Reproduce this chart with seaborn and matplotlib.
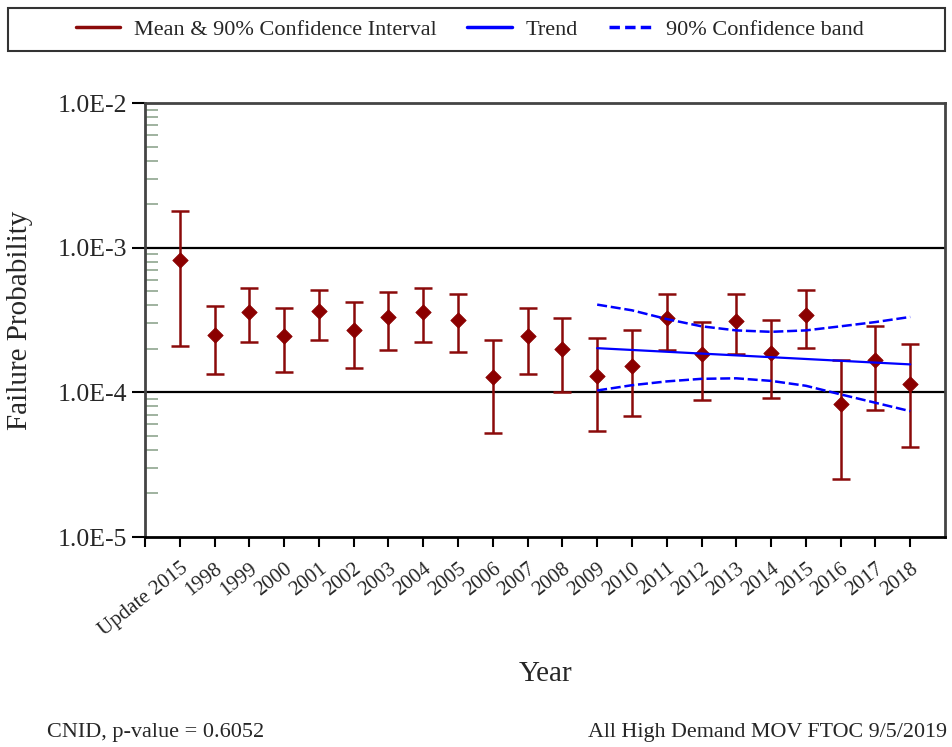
import numpy as np
import pandas as pd
import matplotlib
matplotlib.use("Agg")
import matplotlib.pyplot as plt
from matplotlib.patches import Rectangle
from matplotlib.lines import Line2D
from matplotlib.ticker import LogLocator, NullFormatter, FixedLocator
import seaborn as sns

# ---------------- data ----------------
categories = ["Update 2015", "1998", "1999", "2000", "2001", "2002", "2003", "2004",
              "2005", "2006", "2007", "2008", "2009", "2010", "2011", "2012",
              "2013", "2014", "2015", "2016", "2017", "2018"]
mean_vals = [8.25e-4, 2.49e-4, 3.59e-4, 2.47e-4, 3.63e-4, 2.71e-4, 3.30e-4, 3.59e-4,
             3.14e-4, 1.28e-4, 2.45e-4, 1.99e-4, 1.30e-4, 1.52e-4, 3.27e-4, 1.84e-4,
             3.13e-4, 1.87e-4, 3.41e-4, 8.30e-5, 1.68e-4, 1.14e-4]
upper_vals = [1.78e-3, 3.95e-4, 5.28e-4, 3.83e-4, 5.11e-4, 4.22e-4, 4.95e-4, 5.28e-4,
              4.80e-4, 2.30e-4, 3.83e-4, 3.27e-4, 2.37e-4, 2.70e-4, 4.80e-4, 3.06e-4,
              4.80e-4, 3.16e-4, 5.11e-4, 1.67e-4, 2.87e-4, 2.16e-4]
lower_vals = [2.10e-4, 1.34e-4, 2.22e-4, 1.38e-4, 2.31e-4, 1.47e-4, 1.96e-4, 2.22e-4,
              1.90e-4, 5.24e-5, 1.33e-4, 1.00e-4, 5.44e-5, 6.81e-5, 1.96e-4, 8.80e-5,
              1.84e-4, 9.09e-5, 2.02e-4, 2.51e-5, 7.50e-5, 4.22e-5]

trend_years = ["2009", "2018"]
trend_vals = [2.02e-4, 1.56e-4]

band_years = ["2009", "2010", "2011", "2012", "2013", "2014", "2015", "2016", "2017", "2018"]
band_upper = [4.04e-4, 3.69e-4, 3.21e-4, 2.86e-4, 2.68e-4, 2.62e-4, 2.68e-4, 2.86e-4, 3.06e-4, 3.32e-4]
band_lower = [1.03e-4, 1.12e-4, 1.19e-4, 1.24e-4, 1.25e-4, 1.20e-4, 1.11e-4, 9.68e-5, 8.47e-5, 7.41e-5]

y_ticks = [1e-5, 1e-4, 1e-3, 1e-2]
y_ticklabels = ["1.0E-5", "1.0E-4", "1.0E-3", "1.0E-2"]

# ---------------- style ----------------
sns.set_theme(style="white")
plt.rcParams["font.family"] = ["Liberation Serif", "DejaVu Serif"]

W, H = 952, 747
fig = plt.figure(figsize=(W / 100, H / 100), dpi=100)
ax = fig.add_axes([145 / W, 1 - 537 / H, 800 / W, 434 / H])

pos = {c: i for i, c in enumerate(categories)}
df = pd.DataFrame({"pos": np.arange(len(categories)), "mean": mean_vals,
                   "lo": lower_vals, "hi": upper_vals})
red = "#8B0A0A"
blue = "#0000FF"

ax.set_yscale("log")
ax.set_ylim(1e-5, 1e-2)
ax.set_xlim(-1, len(categories))

# horizontal reference lines
for v in [1e-3, 1e-4]:
    ax.axhline(v, color="black", lw=1.6, zorder=1)

# error bars
ax.errorbar(df["pos"], df["mean"],
            yerr=[df["mean"] - df["lo"], df["hi"] - df["mean"]],
            fmt="none", ecolor=red, elinewidth=1.8, capsize=6.5, capthick=1.8, zorder=3)

# means
sns.scatterplot(data=df, x="pos", y="mean", marker="D", s=62, color="#8B0000",
                edgecolor="#8B0000", linewidth=0.5, ax=ax, zorder=4, legend=False)

# trend + band
tdf = pd.DataFrame({"pos": [pos[y] for y in trend_years], "val": trend_vals})
bdf = pd.DataFrame({"pos": [pos[y] for y in band_years], "up": band_upper, "lo": band_lower})
sns.lineplot(data=tdf, x="pos", y="val", color=blue, lw=1.6, ax=ax, zorder=5)
sns.lineplot(data=bdf, x="pos", y="up", color=blue, lw=1.8, ax=ax, zorder=5)
ax.lines[-1].set_dashes((4, 1.5))
sns.lineplot(data=bdf, x="pos", y="lo", color=blue, lw=1.8, ax=ax, zorder=5)
ax.lines[-1].set_dashes((4, 1.5))

ax.set_xlim(-1, len(categories))
ax.set_ylim(1e-5, 1e-2)
ax.set_xlabel("")
ax.set_ylabel("")

# x ticks
ax.xaxis.set_major_locator(FixedLocator(list(range(-1, len(categories)))))
ax.set_xticklabels([""] + categories, rotation=38, ha="right", va="top",
                   rotation_mode="anchor", fontsize=15)
ax.tick_params(axis="x", which="major", direction="out", length=7, width=1.5,
               color="black", pad=9, bottom=True)

# y ticks
ax.yaxis.set_major_locator(FixedLocator(y_ticks))
ax.set_yticklabels(y_ticklabels, fontsize=18.5)
ax.yaxis.set_minor_locator(LogLocator(base=10, subs=np.arange(2, 10)))
ax.yaxis.set_minor_formatter(NullFormatter())
ax.tick_params(axis="y", which="major", direction="out", length=9.5, width=1.5,
               color="black", pad=3.5, left=True)
ax.tick_params(axis="y", which="minor", direction="in", length=9, width=1.2,
               color="#8FA58F", left=True)

for side in ["top", "right", "left"]:
    ax.spines[side].set_color("#444444")
    ax.spines[side].set_linewidth(2)
ax.spines["bottom"].set_color("black")
ax.spines["bottom"].set_linewidth(2)

# labels
fig.text(20 / W, 1 - 320 / H, "Failure Probability", rotation=90, ha="center",
         va="center", fontsize=21)
fig.text(546 / W, 1 - 674 / H, "Year", ha="center", va="center", fontsize=21)
fig.text(47 / W, 1 - 733 / H, "CNID, p-value = 0.6052", ha="left", va="center", fontsize=16)
fig.text(947 / W, 1 - 733 / H, "All High Demand MOV FTOC 9/5/2019", ha="right",
         va="center", fontsize=15.8)

# legend box
fig.patches.append(Rectangle((8 / W, 1 - 51 / H), 937 / W, 43 / H,
                             transform=fig.transFigure, fill=False,
                             edgecolor="#333333", linewidth=1.5))
handles = [Line2D([], [], color=red, lw=2.5),
           Line2D([], [], color=blue, lw=2.5),
           Line2D([], [], color=blue, lw=2.5, dashes=(3, 1.5))]
labels = ["Mean & 90% Confidence Interval", "Trend", "90% Confidence band"]
fig.legend(handles, labels, loc="center", bbox_to_anchor=(470 / W, 1 - 30 / H),
           ncol=3, frameon=False, fontsize=16, handlelength=2.0,
           handletextpad=0.6, columnspacing=1.4)

fig.savefig("out.png", dpi=100)
